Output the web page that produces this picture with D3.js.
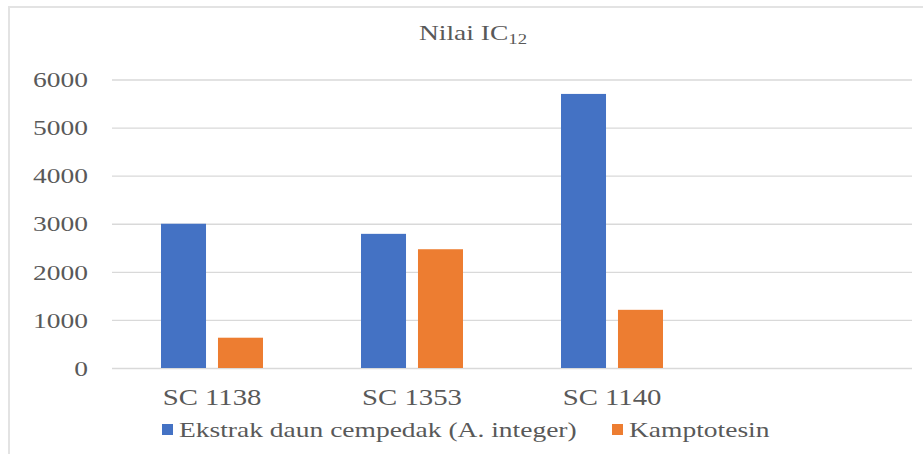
<!DOCTYPE html>
<html lang="id">
<head>
<meta charset="UTF-8" />
<title>Nilai IC12</title>
<script src="https://d3js.org/d3.v7.min.js"></script>
<style>
  html, body { margin: 0; padding: 0; background: #fff; }
  svg { display: block; }
  text { font-family: "Liberation Serif", "Times New Roman", serif; fill: #595959; }
</style>
</head>
<body>
<svg width="923" height="454"></svg>
<script>
// data
const categories = ["SC 1138", "SC 1353", "SC 1140", ""];
const seriesNames = ["Ekstrak daun cempedak (A. integer)", "Kamptotesin"];
const ekstrak = [3000, 2790, 5700, null];
const kamptotesin = [630, 2470, 1210, null];
const yTicks = [0, 1000, 2000, 3000, 4000, 5000, 6000];
const colors = ["#4472C4", "#ED7D31"];

const SX = 1.25; // the source image is stretched sideways
const svg = d3.select("svg");

// chart frame (only top and left edges are visible in the picture)
svg.append("path")
  .attr("d", "M9,454V7H923")
  .attr("fill", "none")
  .attr("stroke", "#e3e3e3")
  .attr("stroke-width", 2);

const plot = { left: 112, right: 912, top: 79.5, bottom: 368 };

const x0 = d3.scaleBand().domain(categories)
  .range([plot.left, plot.right]).paddingInner(0.49).paddingOuter(0.245);
const x1 = d3.scaleBand().domain(seriesNames)
  .range([0, x0.bandwidth()]).paddingInner(0.21);
const y = d3.scaleLinear().domain([0, 6000]).range([plot.bottom, plot.top]);

// gridlines
svg.append("g")
  .attr("transform", `translate(${plot.left},0)`)
  .call(d3.axisLeft(y).tickValues(yTicks).tickSize(-(plot.right - plot.left)).tickFormat(""))
  .call(g => g.select(".domain").remove())
  .call(g => g.selectAll("line").attr("stroke", "#d9d9d9").attr("stroke-width", 1.3));

// y labels
svg.append("g").selectAll("text")
  .data(yTicks)
  .join("text")
  .attr("transform", d => `translate(88,${y(d)}) scale(${SX},1)`)
  .attr("text-anchor", "end")
  .attr("dy", "0.35em")
  .attr("font-size", 22)
  .text(d => d);

// bars
const rows = categories.map((c, i) => ({ cat: c, vals: [ekstrak[i], kamptotesin[i]] }));
svg.append("g").selectAll("g")
  .data(rows)
  .join("g")
  .attr("transform", d => `translate(${x0(d.cat)},0)`)
  .selectAll("rect")
  .data(d => d.vals.map((v, j) => ({ name: seriesNames[j], v, j })).filter(e => e.v != null))
  .join("rect")
  .attr("x", d => x1(d.name))
  .attr("width", x1.bandwidth())
  .attr("y", d => y(d.v))
  .attr("height", d => y(0) - y(d.v))
  .attr("fill", d => colors[d.j]);

// x labels
svg.append("g").selectAll("text")
  .data(categories.filter(c => c))
  .join("text")
  .attr("transform", d => `translate(${x0(d) + x0.bandwidth() / 2},405) scale(${SX},1)`)
  .attr("text-anchor", "middle")
  .attr("font-size", 23)
  .text(d => d);

// title
const title = svg.append("text")
  .attr("transform", `translate(473,40) scale(${SX},1)`)
  .attr("text-anchor", "middle")
  .attr("font-size", 22);
title.append("tspan").text("Nilai IC");
title.append("tspan").attr("font-size", 15).attr("dy", 4).text("12");

// legend
const legendX = [162, 612];
const lg = svg.append("g").selectAll("g")
  .data(seriesNames)
  .join("g")
  .attr("transform", (d, i) => `translate(${legendX[i]},424)`);
lg.append("rect").attr("width", 11).attr("height", 11).attr("fill", (d, i) => colors[i]);
lg.append("text")
  .attr("transform", `translate(17,13) scale(${SX},1)`)
  .attr("font-size", 22)
  .text(d => d);
</script>
</body>
</html>
